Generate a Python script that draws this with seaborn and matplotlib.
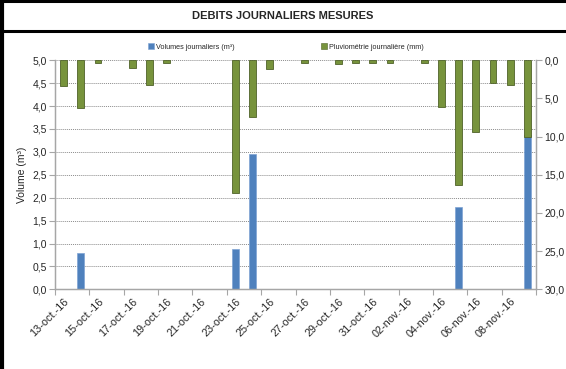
"""Débits journaliers mesurés : volumes (axe gauche) et pluviométrie (axe droit inversé)."""
import matplotlib

matplotlib.use("Agg")
import matplotlib.pyplot as plt
import matplotlib.transforms as mtransforms
import numpy as np
import pandas as pd
import seaborn as sns
from matplotlib.lines import Line2D
from matplotlib.patches import Patch
from matplotlib.ticker import FixedLocator, FuncFormatter

nan = np.nan

DATES = [
    "13-oct.-16", "14-oct.-16", "15-oct.-16", "16-oct.-16", "17-oct.-16",
    "18-oct.-16", "19-oct.-16", "20-oct.-16", "21-oct.-16", "22-oct.-16",
    "23-oct.-16", "24-oct.-16", "25-oct.-16", "26-oct.-16", "27-oct.-16",
    "28-oct.-16", "29-oct.-16", "30-oct.-16", "31-oct.-16", "01-nov.-16",
    "02-nov.-16", "03-nov.-16", "04-nov.-16", "05-nov.-16", "06-nov.-16",
    "07-nov.-16", "08-nov.-16", "09-nov.-16",
]
VOLUMES = [
    nan, 0.79, nan, nan, nan, nan, nan, nan, nan, nan,
    0.87, 2.96, nan, nan, nan, nan, nan, nan, nan, nan,
    nan, nan, nan, 1.79, nan, nan, nan, 3.36,
]
PLUIE = [
    3.4, 6.2, 0.3, nan, 1.0, 3.2, 0.3, nan, nan, nan,
    17.4, 7.4, 1.2, nan, 0.3, nan, 0.5, 0.3, 0.3, 0.3,
    nan, 0.3, 6.1, 16.4, 9.4, 3.0, 3.2, 10.0,
]
TICK_LABELS = DATES[::2]

BLEU = "#4F81BD"
VERT = "#77933C"
GRIS = "#A6A6A6"

sns.set_theme(style="white")
plt.rcParams["font.family"] = ["Liberation Sans", "DejaVu Sans"]

df = pd.DataFrame({"date": DATES, "volume": VOLUMES, "pluie": PLUIE})

fig = plt.figure(figsize=(5.66, 3.69), dpi=100)
ax = fig.add_axes([55 / 566, 1 - 289.3 / 369, (536 - 55) / 566, (289.3 - 60.3) / 369])
ax2 = ax.twinx()

sns.barplot(data=df, x="date", y="volume", order=DATES, color=BLEU, saturation=1,
            width=0.4, edgecolor="#7EA3D3", linewidth=0.5, errorbar=None, ax=ax)
sns.barplot(data=df, x="date", y="pluie", order=DATES, color=VERT, saturation=1,
            width=0.4, edgecolor="#4F6228", linewidth=0.6, errorbar=None, ax=ax2)

virgule = FuncFormatter(lambda v, _: f"{v:.1f}".replace(".", ","))

# axe gauche : volumes
ax.set_ylim(0, 5)
ax.set_yticks(np.arange(0, 5.01, 0.5))
ax.yaxis.set_major_formatter(virgule)
ax.set_ylabel("Volume (m³)", fontsize=7.5, labelpad=4)
ax.set_xlabel("")
ax.grid(axis="y", color="#8C8C8C", linestyle=(0, (1, 1)), linewidth=0.7)
ax.set_axisbelow(True)

# axe droit : pluie inversée
ax2.set_ylim(30, 0)
ax2.set_yticks(np.arange(0, 30.1, 5))
ax2.yaxis.set_major_formatter(virgule)
ax2.set_ylabel("")
ax2.set_xlabel("")

# axe des dates : étiquettes tous les 2 jours, graduations entre catégories
ax.set_xlim(-0.5, len(DATES) - 0.5)
ax.xaxis.set_major_locator(FixedLocator(np.arange(0, len(DATES), 2)))
ax.set_xticklabels(TICK_LABELS, rotation=45, ha="right", rotation_mode="anchor")
decalage = mtransforms.ScaledTranslation(4 / 100, 0, fig.dpi_scale_trans)
for lab in ax.get_xticklabels():
    lab.set_transform(lab.get_transform() + decalage)
ax.xaxis.set_minor_locator(FixedLocator(np.arange(-0.5, len(DATES), 2)))
ax.tick_params(axis="x", which="major", length=0, pad=5, labelsize=7.8)
ax.tick_params(axis="x", which="minor", length=4, color=GRIS, width=0.8, bottom=True)
ax.tick_params(axis="y", length=4, color=GRIS, width=0.8, left=True, labelsize=7.5, pad=2)
ax2.tick_params(axis="y", length=4, color=GRIS, width=0.8, right=True, labelsize=7.5, pad=2)

for a in (ax, ax2):
    for side, sp in a.spines.items():
        sp.set_color(GRIS)
        sp.set_linewidth(0.9)
        sp.set_visible(side != "top")

handles = [Patch(facecolor=BLEU, edgecolor="#7EA3D3", linewidth=0.4),
           Patch(facecolor=VERT, edgecolor="#4F6228", linewidth=0.4)]
fig.legend(handles, ["Volumes journaliers (m³)", "Pluviométrie journalière (mm)"],
           loc="center", bbox_to_anchor=(0.505, 1 - 47 / 369), ncol=2, frameon=False,
           fontsize=5.2, handlelength=0.8, handleheight=0.8, handletextpad=0.3,
           columnspacing=12)

# cadre et cellule de titre
fig.text(0.5, 1 - 16 / 369, "DEBITS JOURNALIERS MESURES", ha="center", va="center",
         fontsize=8, fontweight="bold")
fig.add_artist(Line2D([0, 1], [1 - 1.2 / 369] * 2, color="black", linewidth=2.2))
fig.add_artist(Line2D([0, 1], [1 - 31 / 369] * 2, color="black", linewidth=2.2))
fig.add_artist(Line2D([2 / 566] * 2, [0, 1], color="black", linewidth=3))

fig.savefig("out.png", dpi=100)
